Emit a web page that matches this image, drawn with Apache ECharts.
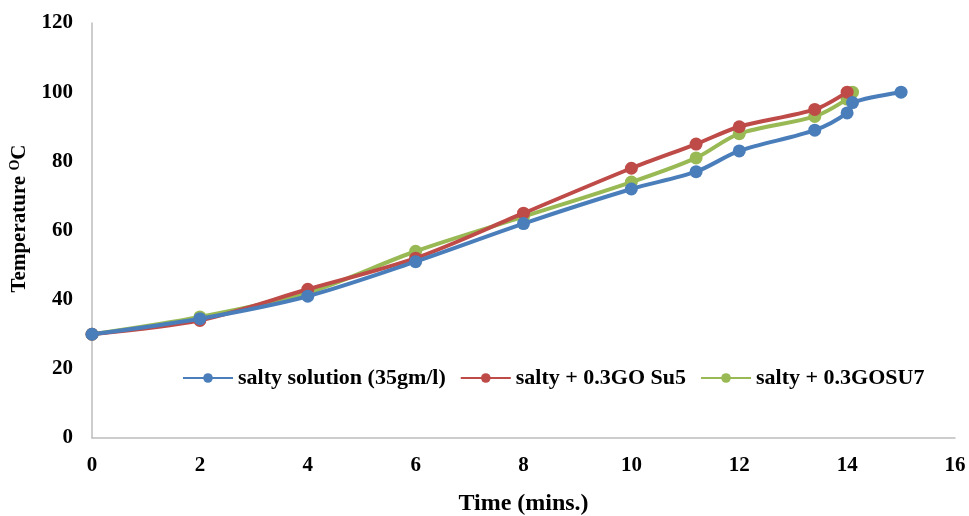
<!DOCTYPE html>
<html><head><meta charset="utf-8">
<script src="https://cdn.jsdelivr.net/npm/echarts@6/dist/echarts.min.js"></script>
<style>html,body{margin:0;padding:0;background:#fff}#c{width:969px;height:516px}</style>
</head><body><div id="c"></div>
<script>
var seriesNames = ['salty solution (35gm/l)', 'salty + 0.3GO Su5', 'salty + 0.3GOSU7'];
var blueX = [0, 2, 4, 6, 8, 10, 11.2, 12, 13.4, 14, 14.1, 15];
var blueY = [30, 34.5, 41, 51, 62, 72, 77, 83, 89, 94, 97, 100];
var redX = [0, 2, 4, 6, 8, 10, 11.2, 12, 13.4, 14];
var redY = [30, 34, 43, 52, 65, 78, 85, 90, 95, 100];
var greenX = [0, 2, 4, 6, 8, 10, 11.2, 12, 13.4, 14, 14.1];
var greenY = [30, 35, 42, 54, 64, 74, 81, 88, 93, 98, 100];
var colors = ['#4a7ebb', '#be4b48', '#98b954'];

function pairs(xs, ys){ return xs.map(function(x,i){ return [x, ys[i]]; }); }
var font = 'Liberation Serif';
var chart = echarts.init(document.getElementById('c'));
var mk = function(i, xs, ys){
  return {name: seriesNames[i], type:'line', smooth:0.3, data: pairs(xs, ys),
    symbol:'circle', symbolSize:13, lineStyle:{width:4, color:colors[i]},
    itemStyle:{color:colors[i]}, z: 10 - i};
};
chart.setOption({
  animation:false,
  color: colors,
  grid:{left:92, right:14, top:23, bottom:78, containLabel:false, outerBoundsMode:'none'},
  legend:{left:177, top:362, itemWidth:50, itemHeight:12, itemGap:14,
    textStyle:{fontFamily:font, fontWeight:'bold', fontSize:22, color:'#000'},
    data: seriesNames},
  xAxis:{type:'value', min:0, max:16, interval:2,
    name:'Time (mins.)', nameLocation:'middle', nameGap:54,
    nameTextStyle:{fontFamily:font, fontWeight:'bold', fontSize:24, color:'#000'},
    axisLine:{lineStyle:{color:'#bdbdbd', width:1.5}},
    axisTick:{show:false},
    axisLabel:{fontFamily:font, fontWeight:'bold', fontSize:21, color:'#000', margin:17},
    splitLine:{show:false}},
  yAxis:{type:'value', min:0, max:120, interval:20,
    name:'{a|Temperature }{s|O}{a|C}', nameLocation:'middle', nameGap:61, nameRotate:90,
    nameTextStyle:{padding:[0,0,0,24],
      rich:{a:{fontFamily:font, fontWeight:'bold', fontSize:21, color:'#000'},
            s:{fontFamily:font, fontWeight:'bold', fontSize:14, color:'#000', verticalAlign:'top', padding:[0,0,9,0]}}},
    axisLine:{show:true, lineStyle:{color:'#bdbdbd', width:1.5}},
    axisTick:{show:false},
    axisLabel:{fontFamily:font, fontWeight:'bold', fontSize:21, color:'#000', margin:19},
    splitLine:{show:false}},
  series:[mk(0, blueX, blueY), mk(1, redX, redY), mk(2, greenX, greenY)]
});
</script></body></html>
